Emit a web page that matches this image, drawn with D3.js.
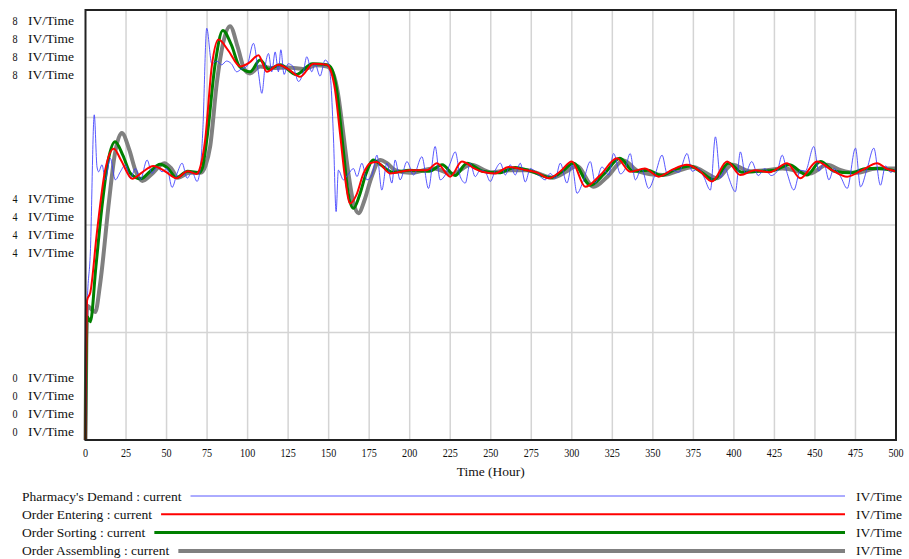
<!DOCTYPE html>
<html>
<head>
<meta charset="utf-8">
<script src="https://cdn.jsdelivr.net/npm/d3@7"></script>
<style>
	body { margin: 0; background: #fff; }
	text { font-family: "Liberation Serif", "Times New Roman", serif; fill: #111; }
</style>
</head>
<body>
<svg id="chart" width="909" height="559"></svg>
<script>
// time (hour), value (IV/Time)
const pharmacyDemand = [[0,0],[1,2.47],[3,3.5],[5.4,6.05],[7.1,5.08],[8.1,4.99],[10.2,5.12],[12.2,4.84],[15.3,5.24],[18.4,4.84],[21.5,4.99],[24.6,5.12],[27.7,4.87],[30.8,5.05],[33.8,4.84],[38,5.21],[41,4.96],[44,5.08],[47.2,4.99],[50.3,5.05],[53.4,4.7],[56.5,4.96],[59.6,5.15],[62.7,4.87],[65.7,4.99],[68.8,4.81],[70.9,5.08],[72.3,5.71],[74.8,7.66],[77.9,7.0],[81,7.05],[84,6.98],[87,7.05],[90,7.0],[93.3,6.85],[96,6.9],[99.5,6.95],[103.6,7.38],[106.6,6.85],[108.8,6.45],[110.8,6.95],[112.9,7.19],[114.9,6.85],[117,7.22],[119,6.85],[120.5,7.26],[122.5,6.8],[125,7.0],[128,6.95],[131.4,6.67],[134.4,6.85],[136.5,7.13],[139.6,6.85],[141.6,7.0],[144.7,6.77],[147.8,7.07],[149.9,7.0],[151.5,6.6],[153,5.6],[154.6,4.25],[156,5.02],[159.1,4.84],[162.2,4.95],[165.3,5.05],[167.5,4.9],[170.5,5.15],[173.6,4.84],[176.7,4.93],[179.8,5.3],[182.8,4.65],[185.9,5.15],[189,4.78],[191,5.21],[194.1,4.84],[198.3,5.18],[202.4,4.93],[207.5,5.27],[211.6,4.68],[215.7,5.46],[218.8,4.84],[221.9,4.93],[225,5.15],[228.1,5.36],[231.2,4.9],[234.3,4.78],[237.3,5.15],[240.4,4.9],[243.5,5.02],[246.6,4.99],[249.7,4.81],[252.8,5.02],[255.9,5.15],[259,4.93],[262,5.12],[265.1,4.93],[268.2,5.15],[271.3,4.8],[274.4,5.05],[277.5,4.99],[280.6,4.9],[283.6,4.84],[286.7,4.96],[289.8,4.87],[292.9,5.15],[297,4.78],[300.1,5.12],[303.2,4.59],[307.3,4.84],[311.4,5.18],[314.5,4.78],[318.6,5.08],[322.7,4.93],[325.8,5.33],[330,4.95],[333,5.05],[336,5.33],[339.2,4.84],[343,5.05],[347.4,4.68],[351.5,4.95],[355.7,5.3],[358.8,4.96],[362,5.02],[366,4.98],[371.1,5.33],[374.2,5.0],[378.3,5.05],[381.4,4.9],[385.5,4.65],[388.6,5.64],[391.7,4.88],[394.8,5.05],[396.8,4.88],[400.9,4.62],[404,5.36],[407,4.96],[411,5.18],[415,4.92],[419,5.05],[423,4.92],[426.7,5.0],[429.8,5.3],[432.9,4.96],[437,4.65],[441,5.02],[444,5.0],[449.3,5.46],[452.4,5.0],[455.5,5.15],[458.6,4.84],[461.7,5.05],[465.8,4.9],[469.9,4.68],[475,5.43],[478.1,4.71],[482.2,5.05],[486.3,5.43],[490.4,4.74],[493.5,5.1],[496.6,4.98],[500,5.05]]

const orderEntering = [[0,0],[1,2.6],[3,2.75],[7,3.85],[12,5.0],[17.5,5.42],[22,5.2],[28.8,4.86],[35,4.98],[41.8,5.1],[49,5.0],[56,4.87],[63,5.0],[68.5,4.95],[71,5.1],[73.8,5.58],[77.9,6.95],[82,7.45],[88,7.25],[95.4,6.95],[101,7.02],[106.7,7.16],[111.9,6.85],[119,6.98],[125,6.9],[132.4,6.76],[140.6,7.0],[148.9,6.98],[151.5,6.85],[154,6.5],[157,5.71],[160,4.9],[163.3,4.4],[167,4.55],[171.5,4.96],[175.6,5.15],[179.8,5.17],[188,4.96],[200,5.02],[210.6,5.02],[216.8,5.15],[225,4.9],[232.2,5.18],[240,5.05],[244.6,4.99],[252.8,4.96],[261,5.08],[272,5.02],[279,4.97],[285.7,4.87],[293,5.0],[300,5.18],[308.3,4.71],[317.6,4.93],[327.9,5.24],[336,4.99],[345,5.05],[353.6,4.9],[362,5.03],[371,5.12],[379,5.0],[386.5,4.81],[395.8,5.18],[404,4.93],[413,5.02],[422,4.98],[432.8,5.15],[441,4.87],[451.3,5.18],[460,5.03],[469.9,4.9],[479,5.02],[488.4,5.15],[494,5.05],[500,5.0]]

const orderSorting = [[0,0],[1,2.3],[3,2.2],[6.4,3.22],[10,4.3],[14,5.2],[18.3,5.55],[23,5.3],[28,4.95],[34,4.86],[40,5.0],[46,5.13],[51,5.05],[56,4.88],[63,5.0],[70,4.97],[72,5.05],[74.8,5.58],[80,7.0],[84.7,7.62],[90,7.35],[95,6.95],[101.5,6.85],[107.7,7.07],[113,6.9],[120,6.98],[130,6.8],[140,7.0],[149,6.98],[152,6.9],[155,6.5],[159,5.4],[162,4.6],[165.3,4.31],[169,4.55],[173,4.95],[177.6,5.21],[182,5.12],[190,4.98],[200,5.02],[212,5.0],[220,5.12],[228,4.92],[235.3,5.15],[245,5.0],[255,4.97],[265,5.07],[275,5.0],[287,4.88],[295,5.02],[301,5.15],[311.4,4.74],[320,4.95],[329.7,5.24],[338,5.0],[347,5.02],[355,4.92],[365,5.05],[373,5.1],[380,4.98],[387.5,4.84],[396.8,5.15],[405,4.98],[415,5.0],[425,5.02],[434,5.12],[445,4.93],[453.4,5.18],[462,5.0],[472,4.97],[482,5.05],[490,5.05],[500,5.0]]

const orderAssembling = [[0,0],[1,2.5],[3,2.45],[6,2.38],[9,2.9],[14.6,4.47],[18,5.3],[22.4,5.71],[27,5.4],[31,5.0],[35,4.82],[41,4.95],[48.6,5.15],[53,5.05],[57,4.88],[64,4.97],[71,4.97],[74,5.1],[76.9,5.46],[81,6.64],[85,7.4],[89.2,7.7],[94,7.3],[98,6.9],[101.5,6.82],[107.7,6.95],[115,6.92],[125,6.93],[135,6.9],[142,6.97],[149,6.95],[153,6.8],[156,6.4],[158,5.95],[162,5.0],[165,4.45],[168.4,4.22],[172,4.45],[176,4.85],[181.8,5.21],[186,5.15],[191,5.02],[200,4.97],[215,5.05],[226,4.95],[238,5.12],[250,4.98],[262,5.02],[272,5.02],[288,4.88],[297,5.0],[303,5.1],[313.5,4.71],[322,4.9],[332,5.2],[341,5.0],[356,4.93],[375,5.08],[381,5.0],[389.6,4.87],[399,5.12],[410,5.0],[420,5.02],[430,5.05],[447,4.96],[457.5,5.12],[466,5.02],[475,4.97],[488,5.05],[500,5.05]]

const seriesNames = ["Pharmacy's Demand : current", 'Order Entering : current', 'Order Sorting : current', 'Order Assembling : current']
const xTicks = d3.range(0, 501, 25)
const yLabelValues = [8, 4, 0]
const yGrid = [2, 4, 6]
const unit = 'IV/Time'
const xTitle = 'Time (Hour)'

const series = [
	{ name: seriesNames[0], data: pharmacyDemand, color: '#3b3bff', width: 1, opacity: 0.85 },
	{ name: seriesNames[1], data: orderEntering, color: '#ff0000', width: 2, opacity: 1 },
	{ name: seriesNames[2], data: orderSorting, color: '#008000', width: 3, opacity: 1 },
	{ name: seriesNames[3], data: orderAssembling, color: '#808080', width: 4, opacity: 1 }
]

const svg = d3.select('#chart')
const plotLeft = 85.5, plotRight = 896, plotTop = 10, plotBottom = 440
const fontSize = 13.5

const x = d3.scaleLinear().domain([0, 500]).range([plotLeft, plotRight])
const y = d3.scaleLinear().domain([0, 8]).range([plotBottom, plotTop])

// grid
svg.append('g')
	.selectAll('line')
	.data(xTicks.slice(1, -1))
	.join('line')
	.attr('x1', d => x(d)).attr('x2', d => x(d))
	.attr('y1', plotTop).attr('y2', plotBottom)
	.attr('stroke', '#d4d4d4').attr('stroke-width', 1.5)

svg.append('g')
	.selectAll('line')
	.data(yGrid)
	.join('line')
	.attr('x1', plotLeft).attr('x2', plotRight)
	.attr('y1', d => y(d)).attr('y2', d => y(d))
	.attr('stroke', '#d4d4d4').attr('stroke-width', 1.5)

// lines, back to front
const lineGen = d3.line()
	.x(d => x(d[0]))
	.y(d => y(d[1]))
	.curve(d3.curveMonotoneX)

const drawOrder = [3, 2, 0, 1]
drawOrder.forEach(i => {
	const s = series[i]
	svg.append('path')
		.attr('d', lineGen(s.data))
		.attr('fill', 'none')
		.attr('stroke', s.color)
		.attr('stroke-width', s.width)
		.attr('stroke-opacity', s.opacity)
		.attr('stroke-linejoin', 'round')
})

// frame
svg.append('rect')
	.attr('x', plotLeft).attr('y', plotTop)
	.attr('width', plotRight - plotLeft).attr('height', plotBottom - plotTop)
	.attr('fill', 'none').attr('stroke', '#222').attr('stroke-width', 2)

// x axis labels
svg.append('g')
	.selectAll('text')
	.data(xTicks)
	.join('text')
	.attr('transform', d => `translate(${x(d)},457) scale(0.75,1)`)
	.attr('text-anchor', 'middle')
	.attr('font-size', fontSize)
	.text(d => d)

svg.append('text')
	.attr('x', x(250)).attr('y', 476)
	.attr('text-anchor', 'middle')
	.attr('font-size', fontSize)
	.text(xTitle)

// y labels: one row per series at each value
const rowGap = 18
yLabelValues.forEach(v => {
	let first
	if (v === 8) first = y(v) + 10
	else if (v === 0) first = y(v) - 9 - rowGap * (series.length - 1)
	else first = y(v) - rowGap * (series.length - 1) / 2
	series.forEach((s, i) => {
		const cy = first + i * rowGap + 4.5
		svg.append('text')
			.attr('transform', `translate(15,${cy}) scale(0.75,1)`)
			.attr('text-anchor', 'middle')
			.attr('font-size', fontSize)
			.text(v)
		svg.append('text')
			.attr('x', 28).attr('y', cy)
			.attr('font-size', fontSize)
			.text(unit)
	})
})

// legend
const legendTop = 496, legendGap = 18.3
series.forEach((s, i) => {
	const ly = legendTop + i * legendGap
	const label = svg.append('text')
		.attr('x', 22).attr('y', ly + 4.5)
		.attr('font-size', fontSize)
		.text(s.name)
	const end = 22 + label.node().getComputedTextLength()
	svg.append('line')
		.attr('x1', end + 9).attr('x2', 845)
		.attr('y1', ly).attr('y2', ly)
		.attr('stroke', s.color)
		.attr('stroke-width', s.width)
		.attr('stroke-opacity', s.opacity)
	svg.append('text')
		.attr('x', 856).attr('y', ly + 4.5)
		.attr('font-size', fontSize)
		.text(unit)
})
</script>
</body>
</html>
